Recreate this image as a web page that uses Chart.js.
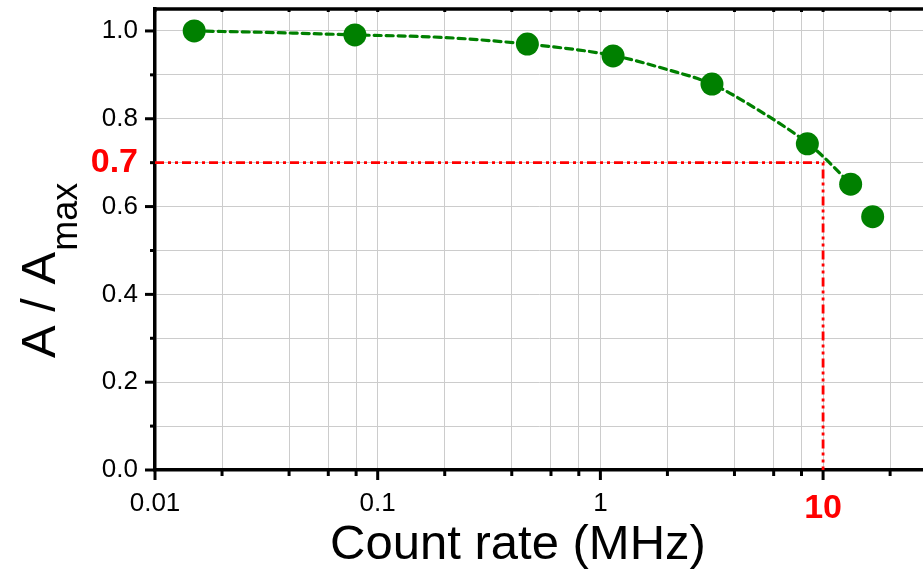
<!DOCTYPE html>
<html>
<head>
<meta charset="utf-8">
<script src="https://cdn.jsdelivr.net/npm/chart.js@4.4.1/dist/chart.umd.min.js"></script>
<style>
    html, body { margin: 0; padding: 0; background: #fff; }
</style>
</head>
<body>
<canvas id="ampChart" width="923" height="571"></canvas>
<script>
// measured points
var rateMHz = [0.015, 0.079, 0.47, 1.14, 3.17, 8.5, 13.3, 16.7];
var ampRatio = [1.0, 0.991, 0.970, 0.943, 0.879, 0.743, 0.651, 0.577];

// dashed fit curve
var fitRate = [0.015, 0.03, 0.08, 0.2, 0.47, 1.14, 2.0, 3.17, 5.0, 8.5, 10, 13.3];
var fitRatio = [1.0, 0.997, 0.991, 0.985, 0.970, 0.944, 0.912, 0.879, 0.823, 0.745, 0.714, 0.651];

// 70% marker
var markRate = [0.01, 10, 10];
var markRatio = [0.7, 0.7, 0.0];

// ticks
var xGrid = [0.01, 0.02, 0.04, 0.06, 0.08, 0.1, 0.2, 0.4, 0.6, 0.8, 1, 2, 4, 6, 8, 10, 20];
var xLabelled = [0.01, 0.1, 1, 10];
var xLabelText = ['0.01', '0.1', '1', '10'];
var yGrid = [0, 0.1, 0.2, 0.3, 0.4, 0.5, 0.6, 0.7, 0.8, 0.9, 1.0];
var yLabelled = [0, 0.2, 0.4, 0.6, 0.7, 0.8, 1.0];
var yLabelText = ['0.0', '0.2', '0.4', '0.6', '0.7', '0.8', '1.0'];
var xHighlight = 10;
var yHighlight = 0.7;

var FONT = "'Liberation Sans', Arial, sans-serif";

function findIdx(list, v) {
    for (var i = 0; i < list.length; i++) {
        if (Math.abs(list[i] - v) < 1e-9) return i;
    }
    return -1;
}
function xy(xs, ys) {
    return xs.map(function (v, i) { return { x: v, y: ys[i] }; });
}

var normalFont = { family: FONT, size: 26 };
var redFont = { family: FONT, size: 34, weight: 'bold' };

// ticks, top frame and axis titles
var axisDecor = {
    id: 'axisDecor',
    afterDraw: function (chart) {
        var ctx = chart.ctx, a = chart.chartArea;
        var x = chart.scales.x, y = chart.scales.y;
        function line(x1, y1, x2, y2) {
            ctx.beginPath(); ctx.moveTo(x1, y1); ctx.lineTo(x2, y2); ctx.stroke();
        }
        ctx.save();
        ctx.strokeStyle = '#000';
        ctx.lineWidth = 3;
        yGrid.forEach(function (v) {
            var py = y.getPixelForValue(v);
            var len = (Math.round(v * 10) % 2 === 0) ? 10 : 5;
            line(a.left - len, py, a.left, py);
        });
        xGrid.forEach(function (v) {
            var px = x.getPixelForValue(v);
            var len = findIdx(xLabelled, v) >= 0 ? 10 : 6;
            line(px, a.bottom, px, a.bottom + len);
            line(px, a.top, px, a.top + 3);
        });
        ctx.lineWidth = 3.5;
        line(a.left - 1.75, a.top, a.right, a.top);

        ctx.fillStyle = '#000';
        ctx.textBaseline = 'alphabetic';
        ctx.textAlign = 'center';
        ctx.font = '49px ' + FONT;
        ctx.fillText('Count rate (MHz)', 518, 559);

        ctx.translate(55, 358);
        ctx.rotate(-Math.PI / 2);
        ctx.textAlign = 'left';
        ctx.font = '49px ' + FONT;
        ctx.fillText('A / A', 0, 0);
        var w = ctx.measureText('A / A').width;
        ctx.font = '36px ' + FONT;
        ctx.fillText('max', w + 1, 22);
        ctx.restore();
    }
};

var ctx = document.getElementById('ampChart').getContext('2d');
var ampChart = new Chart(ctx, {
    type: 'scatter',
    data: {
        datasets: [{
            data: xy(rateMHz, ampRatio),
            backgroundColor: '#008000',
            borderColor: '#008000',
            pointRadius: 11.5,
            pointBorderWidth: 0,
            showLine: false,
            order: 0
        }, {
            data: xy(fitRate, fitRatio),
            borderColor: '#008000',
            borderWidth: 3.2,
            borderDash: [7, 5],
            borderCapStyle: 'round',
            pointRadius: 0,
            showLine: true,
            cubicInterpolationMode: 'monotone',
            order: 1
        }, {
            data: xy(markRate, markRatio),
            borderColor: '#ff0000',
            borderWidth: 2.8,
            borderDash: [9, 4, 3, 4, 3, 4],
            pointRadius: 0,
            showLine: true,
            tension: 0,
            order: 2
        }]
    },
    options: {
        responsive: false,
        animation: false,
        layout: { autoPadding: false, padding: { top: 9, right: 0, left: 0, bottom: 0 } },
        plugins: {
            legend: { display: false },
            tooltip: { enabled: false }
        },
        scales: {
            x: {
                type: 'logarithmic',
                min: 0.01,
                max: 28.1,
                afterBuildTicks: function (scale) {
                    scale.ticks = xGrid.map(function (v) { return { value: v }; });
                },
                afterFit: function (scale) {
                    scale.height = 101;
                    scale.paddingLeft = 0;
                    scale.paddingRight = 0;
                },
                grid: { color: '#cccccc', lineWidth: 1, drawTicks: false },
                border: { color: '#000', width: 3.5 },
                ticks: {
                    autoSkip: false,
                    maxRotation: 0,
                    padding: 18,
                    callback: function (value) {
                        var i = findIdx(xLabelled, value);
                        return i >= 0 ? xLabelText[i] : '';
                    },
                    color: function (c) {
                        return c.tick && Math.abs(c.tick.value - xHighlight) < 1e-9 ? '#ff0000' : '#000';
                    },
                    font: function (c) {
                        return c.tick && Math.abs(c.tick.value - xHighlight) < 1e-9 ? redFont : normalFont;
                    }
                }
            },
            y: {
                min: 0,
                max: 1.05,
                afterBuildTicks: function (scale) {
                    scale.ticks = yGrid.map(function (v) { return { value: v }; });
                },
                afterFit: function (scale) {
                    scale.width = 155;
                    scale.paddingTop = 0;
                    scale.paddingBottom = 0;
                },
                grid: { color: '#cccccc', lineWidth: 1, drawTicks: false },
                border: { color: '#000', width: 3.5 },
                ticks: {
                    autoSkip: false,
                    padding: 17,
                    callback: function (value) {
                        var i = findIdx(yLabelled, value);
                        return i >= 0 ? yLabelText[i] : '';
                    },
                    color: function (c) {
                        return c.tick && Math.abs(c.tick.value - yHighlight) < 1e-9 ? '#ff0000' : '#000';
                    },
                    font: function (c) {
                        return c.tick && Math.abs(c.tick.value - yHighlight) < 1e-9 ? redFont : normalFont;
                    }
                }
            }
        }
    },
    plugins: [axisDecor]
});
</script>
</body>
</html>
